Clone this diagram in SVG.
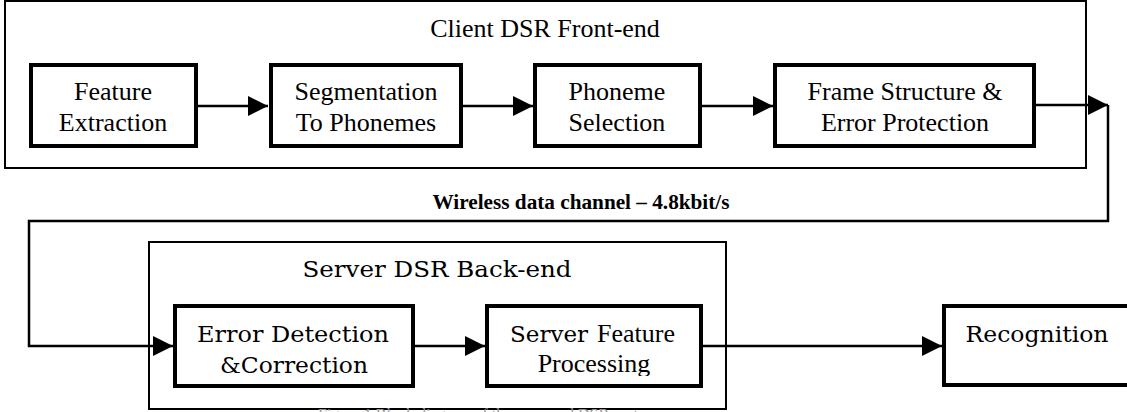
<svg xmlns="http://www.w3.org/2000/svg" width="1127" height="412" viewBox="0 0 1127 412">
  <style>
    .frame { fill: none; stroke: #000; stroke-width: 2; }
    .box { fill: #fff; stroke: #000; stroke-width: 4; }
    .t { font-family: "Liberation Serif", "Times New Roman", serif; font-size: 26px; fill: #000; text-anchor: middle; }
    .c { font-family: "DejaVu Serif", serif; font-size: 23px; fill: #000; text-anchor: middle; }
    .sv { font-family: "DejaVu Serif", serif; font-size: 23px; }
    .tm { font-family: "Liberation Serif", "Times New Roman", serif; font-size: 26px; }
    .conn { fill: none; stroke: #000; stroke-width: 2.5; }
    .lbl { font-family: "Liberation Serif", "Times New Roman", serif; font-size: 20px; font-weight: bold; fill: #000; text-anchor: middle; }
  </style>
  <defs>
    <marker id="arr" markerUnits="userSpaceOnUse" markerWidth="20" markerHeight="20" refX="20" refY="10" orient="auto">
      <path d="M0,0 L20,10 L0,20 z" fill="#000"/>
    </marker>
    <clipPath id="clipProc"><rect x="480" y="300" width="230" height="76"/></clipPath>
  </defs>
  <rect width="1127" height="412" fill="#fff"/>

  <g id="client">
    <rect class="frame" x="5" y="1" width="1081" height="167"/>
    <text class="t" x="545" y="37">Client DSR Front-end</text>
  </g>

  <g id="server">
    <rect class="frame" x="149" y="242" width="577" height="167"/>
    <text class="c" x="437" y="277" textLength="269" lengthAdjust="spacingAndGlyphs">Server DSR Back-end</text>
  </g>

  <g id="connectors">
    <path class="conn" d="M198,106 H268" marker-end="url(#arr)"/>
    <path class="conn" d="M463,106 H533" marker-end="url(#arr)"/>
    <path class="conn" d="M702,106 H773" marker-end="url(#arr)"/>
    <path class="conn" d="M1036,105 H1108" marker-end="url(#arr)"/>
    <path class="conn" d="M1108,105 V221 H29 V346 H173" marker-end="url(#arr)"/>
    <path class="conn" d="M415,346 H485" marker-end="url(#arr)"/>
    <path class="conn" d="M703,346 H942" marker-end="url(#arr)"/>
    <text class="lbl" x="581" y="209" textLength="297" lengthAdjust="spacingAndGlyphs">Wireless data channel – 4.8kbit/s</text>
  </g>

  <g id="feature-extraction">
    <rect class="box" x="31" y="65" width="165" height="81"/>
    <text class="t" x="113" y="100">Feature</text>
    <text class="t" x="113" y="131">Extraction</text>
  </g>

  <g id="segmentation">
    <rect class="box" x="271" y="65" width="190" height="81"/>
    <text class="t" x="366" y="100">Segmentation</text>
    <text class="t" x="366" y="131">To Phonemes</text>
  </g>

  <g id="phoneme-selection">
    <rect class="box" x="535" y="65" width="165" height="81"/>
    <text class="t" x="617" y="100">Phoneme</text>
    <text class="t" x="617" y="131">Selection</text>
  </g>

  <g id="frame-structure">
    <rect class="box" x="775" y="65" width="259" height="81"/>
    <text class="t" x="905" y="100">Frame Structure &amp;</text>
    <text class="t" x="905" y="131">Error Protection</text>
  </g>

  <g id="error-detection">
    <rect class="box" x="175" y="306" width="238" height="80"/>
    <text class="c" x="293" y="342" textLength="192" lengthAdjust="spacingAndGlyphs">Error Detection</text>
    <text class="c" x="294" y="373" textLength="148" lengthAdjust="spacingAndGlyphs">&amp;Correction</text>
  </g>

  <g id="server-feature">
    <rect class="box" x="487" y="306" width="214" height="80"/>
    <text class="sv" x="510" y="342" textLength="78" lengthAdjust="spacingAndGlyphs">Server</text>
    <text class="tm" x="597" y="342">Feature</text>
    <text class="t" x="594" y="372" clip-path="url(#clipProc)">Processing</text>
  </g>

  <g id="recognition">
    <rect class="box" x="944" y="306" width="200" height="79"/>
    <text class="c" x="1037" y="342" textLength="143" lengthAdjust="spacingAndGlyphs">Recognition</text>
  </g>

  <g id="caption">
    <text x="318" y="420" font-family="Liberation Serif, serif" font-size="16" fill="#999">Figure 1 Block diagram of the proposed DSR system</text>
  </g>
</svg>
